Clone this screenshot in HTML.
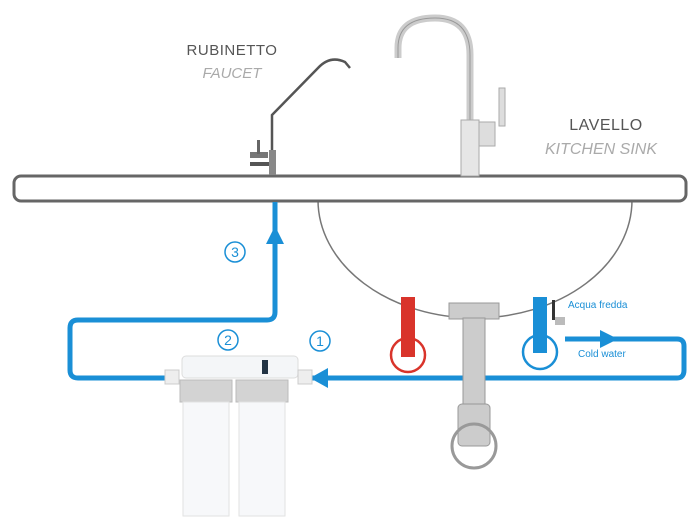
<!DOCTYPE html>
<html><head><style>body{margin:0;background:#fff}svg{display:block}</style></head><body>
<svg width="700" height="522" viewBox="0 0 700 522" xmlns="http://www.w3.org/2000/svg" font-family="Liberation Sans, sans-serif">
<rect width="700" height="522" fill="#fff"/>
<!-- sink bowl -->
<path d="M318 200 A157 118 0 0 0 632 200" fill="#fff" stroke="#777" stroke-width="1.5"/>
<!-- counter -->
<rect x="14" y="176" width="672" height="25" rx="7" fill="#fff" stroke="#666" stroke-width="3"/>
<!-- small faucet -->
<path d="M272 172 L272 115 L318 68 Q330 55 345 62 L350 68" fill="none" stroke="#555" stroke-width="2.5"/>
<rect x="250" y="152" width="18" height="6" fill="#777"/>
<rect x="250" y="162" width="22" height="4" fill="#555"/>
<rect x="257" y="140" width="3" height="14" fill="#666"/>
<rect x="269" y="150" width="7" height="25" fill="#888"/>
<!-- big faucet -->
<path d="M470 150 L470 55 Q470 18 435 18 Q398 18 398 48 L398 58" fill="none" stroke="#ccc" stroke-width="7"/>
<path d="M470 150 L470 55 Q470 18 435 18 Q398 18 398 48 L398 58" fill="none" stroke="#999" stroke-width="1"/>
<rect x="461" y="120" width="18" height="56" fill="#e6e6e6" stroke="#aaa"/>
<rect x="479" y="122" width="16" height="24" fill="#ddd" stroke="#aaa"/>
<rect x="499" y="88" width="6" height="38" fill="#ddd" stroke="#aaa"/>
<!-- labels -->
<text x="232" y="55" text-anchor="middle" font-size="15" fill="#555" letter-spacing="0.5">RUBINETTO</text>
<text x="232" y="78" text-anchor="middle" font-size="15" font-style="italic" fill="#aaa">FAUCET</text>
<text x="606" y="130" text-anchor="middle" font-size="16" fill="#555" letter-spacing="0.5">LAVELLO</text>
<text x="601" y="154" text-anchor="middle" font-size="16" font-style="italic" fill="#aaa">KITCHEN SINK</text>
<!-- blue lines -->
<g fill="none" stroke="#1a8fd6" stroke-width="5" stroke-linejoin="round">
<path d="M275 202 L275 312 Q275 320 267 320 L78 320 Q70 320 70 328 L70 370 Q70 378 78 378 L165 378"/>
<path d="M305 378 L677 378 Q684 378 684 370 L684 346 Q684 339 677 339 L565 339"/>
</g>
<path d="M275 226 L266 244 L284 244Z" fill="#1a8fd6"/>
<path d="M310 378 L328 368 L328 388Z" fill="#1a8fd6"/>
<path d="M618 339 L600 330 L600 348Z" fill="#1a8fd6"/>
<g fill="none" stroke="#1a8fd6" stroke-width="1.5">
<circle cx="235" cy="252" r="10"/><circle cx="228" cy="340" r="10"/><circle cx="320" cy="341" r="10"/>
</g>
<g fill="#1a8fd6" font-size="14" text-anchor="middle">
<text x="235" y="257">3</text><text x="228" y="345">2</text><text x="320" y="346">1</text>
</g>
<text x="568" y="308" font-size="10" fill="#1a8fd6">Acqua fredda</text>
<text x="578" y="357" font-size="10" fill="#1a8fd6">Cold water</text>
<!-- drain -->
<rect x="449" y="303" width="50" height="16" fill="#ccc" stroke="#999"/>
<rect x="463" y="318" width="22" height="88" fill="#ccc" stroke="#999"/>
<rect x="458" y="404" width="32" height="42" rx="4" fill="#ccc" stroke="#999"/>
<circle cx="474" cy="446" r="22" fill="none" stroke="#999" stroke-width="3"/>
<!-- hot/cold pipes -->
<rect x="401" y="297" width="14" height="60" fill="#d9342b"/>
<circle cx="408" cy="355" r="17" fill="none" stroke="#d9342b" stroke-width="2.5"/>
<rect x="533" y="297" width="14" height="56" fill="#1a8fd6"/>
<circle cx="540" cy="352" r="17" fill="none" stroke="#1a8fd6" stroke-width="2.5"/>
<rect x="552" y="300" width="3" height="20" fill="#333"/>
<rect x="555" y="317" width="10" height="8" fill="#bbb"/>
<!-- filter -->
<rect x="182" y="356" width="116" height="22" rx="4" fill="#f4f6f8" stroke="#ddd"/>
<rect x="262" y="360" width="6" height="14" fill="#234"/>
<rect x="165" y="370" width="14" height="14" fill="#eee" stroke="#ccc"/>
<rect x="298" y="370" width="14" height="14" fill="#eee" stroke="#ccc"/>
<rect x="180" y="380" width="52" height="22" fill="#d3d3d3" stroke="#bbb"/>
<rect x="236" y="380" width="52" height="22" fill="#d3d3d3" stroke="#bbb"/>
<rect x="183" y="402" width="46" height="114" fill="#f7f8fa" stroke="#e2e2e2"/>
<rect x="239" y="402" width="46" height="114" fill="#f7f8fa" stroke="#e2e2e2"/>
</svg>
</body></html>
